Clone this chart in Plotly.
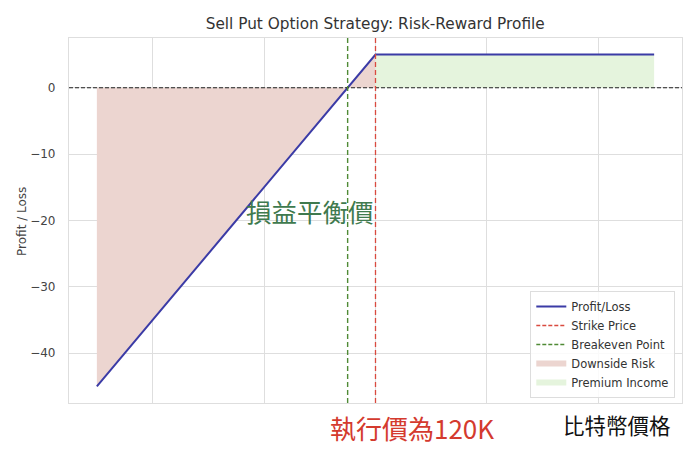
import plotly.graph_objects as go

# Data
prices = [70, 120, 170]          # underlying price (K)
pnl = [-45, 5, 5]                # profit / loss of the short put
strike = 120
breakeven = 115
down_x = [70, 120]
down_y = [-45, 5]
prem_x = [120, 170]
prem_y = [5, 5]
y_ticks = [0, -10, -20, -30, -40]
x_grid = [80, 100, 120, 140, 160]

FONT = "DejaVu Sans"
CJK = "Noto Sans CJK TC"

# page body has an 8px margin -> work in shifted coordinates
OFF = 8
W, H = 691 - OFF, 452 - OFF
PL, PR, PT, PB = 68.7, 681.7, 37.7, 403.0   # plot area in screenshot pixels
PW, PH = PR - PL, PB - PT


def px_x(x):
    return (x - PL) / PW


def px_y(y):
    return (PB - y) / PH


RED = "#d94a3f"
GREEN = "#4f8a35"
BLUE = "#3b3ba6"

fig = go.Figure()

fig.add_trace(go.Scatter(
    x=down_x + down_x[::-1], y=down_y + [0] * len(down_x),
    fill="toself", fillcolor="rgb(236,213,208)", mode="none",
    name="Downside Risk", legendrank=4, hoverinfo="skip"))
fig.add_trace(go.Scatter(
    x=prem_x, y=prem_y, fill="tozeroy", fillcolor="rgb(229,244,221)",
    mode="none", name="Premium Income", legendrank=5, hoverinfo="skip"))
fig.add_trace(go.Scatter(
    x=prices, y=pnl, mode="lines", line=dict(color=BLUE, width=2),
    name="Profit/Loss", legendrank=1))
# legend-only entries for the vertical reference lines
fig.add_trace(go.Scatter(x=[None], y=[None], mode="lines",
                         line=dict(color=RED, width=1.4, dash="4px,2px"),
                         name="Strike Price", legendrank=2))
fig.add_trace(go.Scatter(x=[None], y=[None], mode="lines",
                         line=dict(color=GREEN, width=1.5, dash="4px,2px"),
                         name="Breakeven Point", legendrank=3))

fig.add_shape(type="line", xref="x domain", yref="y", x0=0, x1=1, y0=0, y1=0,
              line=dict(color="#222", width=1.1, dash="4px,2px"))
fig.add_shape(type="line", xref="x", yref="y domain", x0=strike, x1=strike, y0=0, y1=1,
              line=dict(color=RED, width=1.3, dash="5px,3px"))
fig.add_shape(type="line", xref="x", yref="y domain", x0=breakeven, x1=breakeven, y0=0, y1=1,
              line=dict(color=GREEN, width=1.4, dash="5px,3px"))

fig.add_annotation(x=px_x(309.5), y=px_y(210.5), xref="paper", yref="paper", text="損益平衡價",
                   xanchor="center", yanchor="middle",
                   showarrow=False, font=dict(family=CJK, size=25.5, color="#3f7a4e"))
fig.add_annotation(x=px_x(412), y=px_y(428), xref="paper", yref="paper", text="執行價為120K",
                   xanchor="center", yanchor="middle",
                   showarrow=False, font=dict(family=CJK, size=26, color="#d43a2e"))
fig.add_annotation(x=px_x(617), y=px_y(425), xref="paper", yref="paper",
                   text="比特幣價格", showarrow=False, xanchor="center", yanchor="middle",
                   font=dict(family=CJK, size=21.5, color="#111"))
# y-axis title
fig.add_annotation(x=px_x(21.5), y=px_y(221), xref="paper", yref="paper",
                   text="Profit / Loss", showarrow=False, textangle=-90,
                   xanchor="center", yanchor="middle",
                   font=dict(family=FONT, size=12, color="#444"))

fig.update_layout(
    width=W, height=H,
    margin=dict(l=PL - OFF, r=W - (PR - OFF), t=PT - OFF, b=H - (PB - OFF), autoexpand=False),
    paper_bgcolor="white", plot_bgcolor="white",
    font=dict(family=FONT, size=12, color="#444"),
    title=dict(text="Sell Put Option Strategy: Risk-Reward Profile",
               x=((PL + PR) / 2 - OFF) / W, xanchor="center",
               y=1 - (24 - OFF) / H, yanchor="middle",
               font=dict(family=FONT, size=15.3, color="#333")),
    showlegend=True,
    legend=dict(x=px_x(675), xanchor="right", y=px_y(398), yanchor="bottom",
                bgcolor="rgba(255,255,255,0.85)", bordercolor="#ddd", borderwidth=1,
                font=dict(family=FONT, size=11.5, color="#333"), tracegroupgap=0,
                itemwidth=30),
)
fig.update_xaxes(range=[65, 175], tickvals=x_grid, showticklabels=False,
                 showgrid=True, gridcolor="#dedede", gridwidth=1, zeroline=False,
                 showline=True, linecolor="#dedede", linewidth=1.2, mirror=True, ticks="")
fig.update_yaxes(range=[-47.5, 7.5], tickvals=y_ticks,
                 ticktext=[str(v).replace("-", "\u2212") for v in y_ticks],
                 showgrid=True, gridcolor="#dedede", gridwidth=1, zeroline=False,
                 showline=True, linecolor="#dedede", linewidth=1.2, mirror=True,
                 ticks="", ticklabelstandoff=10, automargin=False,
                 tickfont=dict(family=FONT, size=12, color="#444"))

fig.write_html("out.html")
